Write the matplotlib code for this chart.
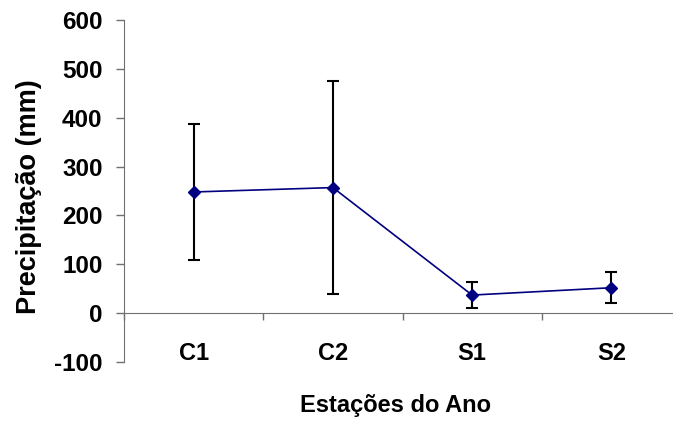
import matplotlib
matplotlib.use("Agg")
import matplotlib.pyplot as plt
import numpy as np

plt.rcParams['font.family'] = ['Liberation Sans', 'DejaVu Sans']
plt.rcParams['font.weight'] = 'bold'

estacoes = ["C1", "C2", "S1", "S2"]
precip_media = [248, 257, 37, 52]
precip_desvio = [139, 218, 26, 32]
y_ticks = [-100, 0, 100, 200, 300, 400, 500, 600]

axis_gray = '#707070'

fig = plt.figure(figsize=(6.73, 4.23), dpi=100)
ax = fig.add_axes([124/673, 61/423, 557/673, 342/423])

x = np.arange(len(estacoes))
ax.errorbar(x, precip_media, yerr=precip_desvio, fmt='none', ecolor='black',
            elinewidth=1.5, capsize=4, capthick=1.5, zorder=2)
ax.plot(x, precip_media, color='#000080', lw=1.2, marker='D', markersize=6.3,
        markerfacecolor='#000080', markeredgecolor='#000080', mew=1, zorder=3)

ax.set_xlim(-0.5, len(estacoes) - 0.5)
ax.set_ylim(-100, 600)
ax.set_yticks(y_ticks)
ax.set_yticklabels([str(v) for v in y_ticks])
ax.set_xticks(x)
ax.set_xticklabels(estacoes)
ax.set_xticks(np.arange(len(estacoes) + 1) - 0.5, minor=True)

ax.tick_params(axis='x', which='major', length=0, pad=21, labelsize=17)
ax.tick_params(axis='x', which='minor', length=5, width=1, color=axis_gray,
               direction='out')
ax.tick_params(axis='y', which='major', length=6, width=1, color=axis_gray,
               pad=9.4, labelsize=17.5)

for s in ('top', 'right'):
    ax.spines[s].set_visible(False)
ax.spines['bottom'].set_position(('data', 0))
ax.spines['bottom'].set_color(axis_gray)
ax.spines['left'].set_color(axis_gray)

fig.text(36/673, 1 - 196.5/423, "Precipitação (mm)", rotation=90,
         rotation_mode='anchor', ha='center', va='baseline', fontsize=19.5)
fig.text(395.8/673, 1 - 412.3/423, "Estações do Ano", ha='center',
         va='baseline', fontsize=17)

fig.savefig("out.png", dpi=100)
